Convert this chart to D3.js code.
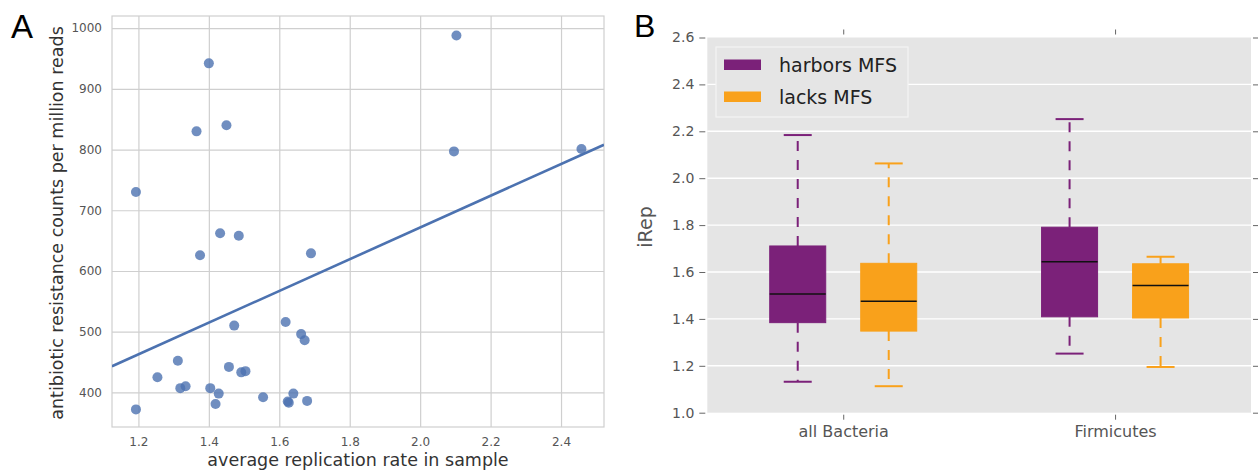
<!DOCTYPE html>
<head>
    <meta charset="utf-8">
    <title>replication rate and iRep</title>
    <style>
      body { margin: 0; background: #fff; }
      text { font-family: "DejaVu Sans", sans-serif; }
    </style>
</head>

<script src="https://d3js.org/d3.v7.min.js"></script>

<div id="my_dataviz"></div>

<script>

    // ---- panel A data: replication rate vs resistance counts
    var repRate = [1.193, 1.193, 1.254, 1.312, 1.319, 1.334, 1.365, 1.375, 1.400, 1.404,
                   1.419, 1.428, 1.432, 1.450, 1.457, 1.472, 1.485, 1.492, 1.504, 1.554,
                   1.618, 1.624, 1.627, 1.640, 1.662, 1.672, 1.679, 1.690, 2.096, 2.103, 2.458]
    var arCounts = [730, 372, 425, 452, 407, 410, 830, 626, 942, 407,
                    381, 398, 662, 840, 442, 510, 658, 433, 435, 392,
                    516, 385, 383, 398, 496, 486, 386, 629, 797, 988, 801]
    // regression line ends
    var fitX = [1.125, 2.522]
    var fitY = [443, 808]
    var xTicksA = [1.2, 1.4, 1.6, 1.8, 2.0, 2.2, 2.4]
    var yTicksA = [400, 500, 600, 700, 800, 900, 1000]

    // ---- panel B data: iRep box stats
    var cats = ["all Bacteria", "Firmicutes"]
    var groups = ["harbors MFS", "lacks MFS"]
    var mfsLow  = [1.132, 1.252]
    var mfsQ1   = [1.384, 1.409]
    var mfsMed  = [1.506, 1.644]
    var mfsQ3   = [1.711, 1.791]
    var mfsHigh = [2.184, 2.252]
    var noLow   = [1.113, 1.195]
    var noQ1    = [1.348, 1.404]
    var noMed   = [1.475, 1.542]
    var noQ3    = [1.637, 1.635]
    var noHigh  = [2.063, 1.665]
    var yTicksB = [1.0, 1.2, 1.4, 1.6, 1.8, 2.0, 2.2, 2.4, 2.6]

    var W = 1258, H = 473

    var svg = d3.select("#my_dataviz")
      .append("svg")
      .attr("width", W)
      .attr("height", H)

    svg.append("rect").attr("width", W).attr("height", H).attr("fill", "#fff")

    // ================= panel A =================
    var a = {left: 112, right: 604, top: 16, bottom: 427}
    var x = d3.scaleLinear().domain([1.125, 2.522]).range([a.left, a.right])
    var y = d3.scaleLinear().domain([343, 1020]).range([a.bottom, a.top])

    var gA = svg.append("g")

    // grid
    gA.append("g")
      .attr("transform", "translate(0," + a.bottom + ")")
      .call(d3.axisBottom(x).tickValues(xTicksA).tickSize(-(a.bottom - a.top)).tickPadding(10)
            .tickFormat(d3.format(".1f")))
      .call(function(g) { g.select(".domain").remove() })
      .call(function(g) {
        g.selectAll(".tick line").attr("stroke", "#cfcfcf").attr("stroke-width", 1.2)
        g.selectAll(".tick text").attr("fill", "#555").style("font-size", "12px")
      })

    gA.append("g")
      .attr("transform", "translate(" + a.left + ",0)")
      .call(d3.axisLeft(y).tickValues(yTicksA).tickSize(-(a.right - a.left)).tickPadding(10)
            .tickFormat(d3.format("d")))
      .call(function(g) { g.select(".domain").remove() })
      .call(function(g) {
        g.selectAll(".tick line").attr("stroke", "#cfcfcf").attr("stroke-width", 1.2)
        g.selectAll(".tick text").attr("fill", "#555").style("font-size", "12px")
      })

    // frame
    gA.append("rect")
      .attr("x", a.left).attr("y", a.top)
      .attr("width", a.right - a.left).attr("height", a.bottom - a.top)
      .attr("fill", "none").attr("stroke", "#cfcfcf").attr("stroke-width", 1.2)

    gA.append("clipPath").attr("id", "clipA")
      .append("rect")
      .attr("x", a.left).attr("y", a.top)
      .attr("width", a.right - a.left).attr("height", a.bottom - a.top)

    // dots
    gA.append("g")
      .selectAll("circle")
      .data(repRate)
      .enter()
      .append("circle")
        .attr("cx", function(d) { return x(d) })
        .attr("cy", function(d, i) { return y(arCounts[i]) })
        .attr("r", 5)
        .attr("fill", "#4c72b0")
        .attr("opacity", 0.8)

    // fit line
    var line = d3.line()
      .x(function(d) { return x(d) })
      .y(function(d, i) { return y(fitY[i]) })
    gA.append("path")
      .datum(fitX)
      .attr("d", line)
      .attr("clip-path", "url(#clipA)")
      .attr("fill", "none")
      .attr("stroke", "#4c72b0")
      .attr("stroke-width", 2.6)

    // labels
    gA.append("text")
      .attr("text-anchor", "middle")
      .attr("x", (a.left + a.right) / 2)
      .attr("y", 466)
      .attr("fill", "#333")
      .style("font-size", "17.5px")
      .text("average replication rate in sample")

    gA.append("text")
      .attr("text-anchor", "middle")
      .attr("transform", "translate(63,223) rotate(-90)")
      .attr("fill", "#333")
      .style("font-size", "17.5px")
      .text("antibiotic resistance counts per million reads")

    svg.append("text")
      .attr("x", 11).attr("y", 38)
      .style("font-family", "'Liberation Sans', sans-serif")
      .style("font-size", "33px")
      .attr("fill", "#000")
      .text("A")

    // ================= panel B =================
    var b = {left: 707.3, right: 1251, top: 37.5, bottom: 412.7}
    var yb = d3.scaleLinear().domain([1.0, 2.6]).range([b.bottom, b.top])
    var xb = d3.scalePoint().domain(cats).range([b.left, b.right]).padding(0.5)
    var sub = d3.scalePoint().domain(groups).range([-45.5, 45.5])
    var color = d3.scaleOrdinal().domain(groups).range(["#7b2179", "#f9a11b"])
    var boxW = 56

    var gB = svg.append("g")

    gB.append("rect")
      .attr("x", b.left).attr("y", b.top)
      .attr("width", b.right - b.left).attr("height", b.bottom - b.top)
      .attr("fill", "#e5e5e5")

    // horizontal grid
    gB.append("g")
      .selectAll("line")
      .data(yTicksB.slice(1, -1))
      .enter()
      .append("line")
        .attr("x1", b.left).attr("x2", b.right)
        .attr("y1", function(d) { return yb(d) })
        .attr("y2", function(d) { return yb(d) })
        .attr("stroke", "#fff")
        .attr("stroke-width", 1.4)

    // left axis, ticks outside
    gB.append("g")
      .attr("transform", "translate(" + (b.left - 2) + ",0)")
      .call(d3.axisLeft(yb).tickValues(yTicksB).tickSize(6).tickPadding(5).tickFormat(d3.format(".1f")))
      .call(function(g) { g.select(".domain").remove() })
      .call(function(g) {
        g.selectAll(".tick line").attr("stroke", "#666")
        g.selectAll(".tick text").attr("fill", "#555").style("font-size", "14px")
      })

    // right ticks
    gB.append("g")
      .attr("transform", "translate(" + (b.right + 2) + ",0)")
      .call(d3.axisRight(yb).tickValues(yTicksB).tickSize(6).tickFormat(""))
      .call(function(g) { g.select(".domain").remove() })
      .call(function(g) { g.selectAll(".tick line").attr("stroke", "#666") })

    // bottom axis
    gB.append("g")
      .attr("transform", "translate(0," + (b.bottom + 2) + ")")
      .call(d3.axisBottom(xb).tickSize(5).tickPadding(6))
      .call(function(g) { g.select(".domain").remove() })
      .call(function(g) {
        g.selectAll(".tick line").attr("stroke", "#666")
        g.selectAll(".tick text").attr("fill", "#555").style("font-size", "16px")
      })

    // top ticks
    gB.append("g")
      .attr("transform", "translate(0," + (b.top - 3) + ")")
      .call(d3.axisTop(xb).tickSize(5).tickFormat(""))
      .call(function(g) { g.select(".domain").remove() })
      .call(function(g) { g.selectAll(".tick line").attr("stroke", "#666") })

    // box table built from the arrays
    var boxes = []
    cats.forEach(function(c, i) {
      boxes.push({cat: c, grp: groups[0], lo: mfsLow[i], q1: mfsQ1[i], med: mfsMed[i], q3: mfsQ3[i], hi: mfsHigh[i]})
      boxes.push({cat: c, grp: groups[1], lo: noLow[i], q1: noQ1[i], med: noMed[i], q3: noQ3[i], hi: noHigh[i]})
    })

    var bx = gB.append("g")
      .selectAll("g")
      .data(boxes)
      .enter()
      .append("g")
        .attr("transform", function(d) { return "translate(" + (xb(d.cat) + sub(d.grp)) + ",0)" })

    // whiskers (dashed), drawn outward from the box
    bx.append("line")
      .attr("x1", 0).attr("x2", 0)
      .attr("y1", function(d) { return yb(d.q3) })
      .attr("y2", function(d) { return yb(d.hi) })
      .attr("stroke", function(d) { return color(d.grp) })
      .attr("stroke-width", 2)
      .attr("stroke-dasharray", "10,9")
    bx.append("line")
      .attr("x1", 0).attr("x2", 0)
      .attr("y1", function(d) { return yb(d.q1) })
      .attr("y2", function(d) { return yb(d.lo) })
      .attr("stroke", function(d) { return color(d.grp) })
      .attr("stroke-width", 2)
      .attr("stroke-dasharray", "10,9")

    // caps
    bx.selectAll(".cap")
      .data(function(d) { return [{v: d.lo, grp: d.grp}, {v: d.hi, grp: d.grp}] })
      .enter()
      .append("line")
        .attr("class", "cap")
        .attr("x1", -boxW / 4).attr("x2", boxW / 4)
        .attr("y1", function(d) { return yb(d.v) })
        .attr("y2", function(d) { return yb(d.v) })
        .attr("stroke", function(d) { return color(d.grp) })
        .attr("stroke-width", 2)

    // boxes
    bx.append("rect")
      .attr("x", -boxW / 2)
      .attr("width", boxW)
      .attr("y", function(d) { return yb(d.q3) })
      .attr("height", function(d) { return yb(d.q1) - yb(d.q3) })
      .attr("fill", function(d) { return color(d.grp) })
      .attr("stroke", function(d) { return color(d.grp) })

    // median
    bx.append("line")
      .attr("x1", -boxW / 2).attr("x2", boxW / 2)
      .attr("y1", function(d) { return yb(d.med) })
      .attr("y2", function(d) { return yb(d.med) })
      .attr("stroke", "#111")
      .attr("stroke-width", 1.5)

    // legend
    var lg = gB.append("g")
    lg.append("rect")
      .attr("x", 716).attr("y", 47)
      .attr("width", 192).attr("height", 70)
      .attr("fill", "#e5e5e5")
      .attr("stroke", "#f4f4f4")
      .attr("stroke-width", 1.2)
    var li = lg.selectAll(".item")
      .data(groups)
      .enter()
      .append("g")
        .attr("class", "item")
        .attr("transform", function(d, i) { return "translate(724," + (59.5 + i * 32) + ")" })
    li.append("rect")
      .attr("width", 37).attr("height", 10.5)
      .attr("fill", function(d) { return color(d) })
    li.append("text")
      .attr("x", 55).attr("y", 12)
      .attr("fill", "#222")
      .style("font-size", "19px")
      .text(function(d) { return d })

    gB.append("text")
      .attr("text-anchor", "middle")
      .attr("transform", "translate(652,227) rotate(-90)")
      .attr("fill", "#555")
      .style("font-size", "19px")
      .text("iRep")

    svg.append("text")
      .attr("x", 634).attr("y", 37)
      .style("font-family", "'Liberation Sans', sans-serif")
      .style("font-size", "32px")
      .attr("fill", "#000")
      .text("B")

</script>
